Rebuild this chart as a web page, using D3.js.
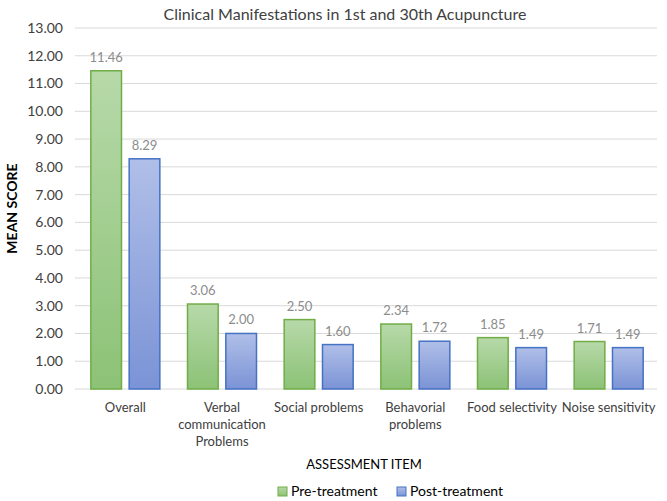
<!DOCTYPE html>
<html><head><meta charset="utf-8">
<script src="https://cdn.jsdelivr.net/npm/d3@7"></script>
<style>body{margin:0;background:#fff}svg{display:block}text{font-family:Lato,"Open Sans",sans-serif}</style>
</head><body><svg id="c" width="667" height="501"></svg>
<script>
const categories = [["Overall"],["Verbal","communication","Problems"],["Social problems"],["Behavorial","problems"],["Food selectivity"],["Noise sensitivity"]];
const preTreatment = [11.46, 3.06, 2.50, 2.34, 1.85, 1.71];
const postTreatment = [8.29, 2.00, 1.60, 1.72, 1.49, 1.49];
const seriesNames = ["Pre-treatment","Post-treatment"];
const yTicks = d3.range(0, 14, 1);

const svg = d3.select("#c");
const m = {l:77, r:10, t:28, b:112};
const W = 667, H = 501;
const GW = 69;
const x = d3.scaleBand().domain(d3.range(categories.length)).range([m.l, W - m.r]);
const y = d3.scaleLinear().domain([0, 13]).range([H - m.b, m.t]);
const xs = d3.scaleBand().domain([0,1]).range([0, GW]).paddingInner(0.2);

const defs = svg.append("defs");
function grad(id, top, bot){
  const g = defs.append("linearGradient").attr("id", id).attr("x1",0).attr("y1",0).attr("x2",0).attr("y2",1);
  g.append("stop").attr("offset","0%").attr("stop-color", top);
  g.append("stop").attr("offset","100%").attr("stop-color", bot);
}
grad("gG", "#b7d9a9", "#8cc276");
grad("gB", "#b0bfe8", "#7b93d6");
const fills = ["url(#gG)", "url(#gB)"];
const strokes = ["#70ad47", "#4472c4"];

svg.append("g").selectAll("line").data(yTicks).join("line")
  .attr("x1", m.l - 2).attr("x2", W - m.r)
  .attr("y1", d => y(d)).attr("y2", d => y(d))
  .attr("stroke", "#d9d9d9").attr("stroke-width", 1);

svg.append("g").selectAll("text").data(yTicks).join("text")
  .attr("x", 63).attr("y", d => y(d)).attr("dy", "0.35em")
  .attr("text-anchor", "end").attr("font-size", 14).attr("fill", "#404040")
  .text(d => d.toFixed(2));

const series = [preTreatment, postTreatment];
series.forEach((vals, si) => {
  const g = svg.append("g");
  g.selectAll("rect").data(vals).join("rect")
    .attr("x", (d,i) => x(i) + (x.bandwidth() - GW)/2 + xs(si))
    .attr("y", d => y(d)).attr("width", xs.bandwidth())
    .attr("height", d => y(0) - y(d))
    .attr("fill", fills[si]).attr("stroke", strokes[si]).attr("stroke-width", 1.5);
  g.selectAll("text").data(vals).join("text")
    .attr("x", (d,i) => x(i) + (x.bandwidth() - GW)/2 + xs(si) + xs.bandwidth()/2)
    .attr("y", d => y(d) - 9)
    .attr("text-anchor", "middle").attr("font-size", 13).attr("fill", "#8c8c8c")
    .text(d => d.toFixed(2));
});

const cl = svg.append("g");
categories.forEach((lines, i) => {
  const t = cl.append("text").attr("x", x(i) + x.bandwidth()/2).attr("y", 412)
    .attr("text-anchor", "middle").attr("font-size", 13).attr("fill", "#404040");
  lines.forEach((ln, k) => t.append("tspan").attr("x", x(i) + x.bandwidth()/2).attr("dy", k ? 17 : 0).text(ln));
});

svg.append("text").attr("x", 345).attr("y", 20).attr("text-anchor", "middle")
  .attr("font-size", 16).attr("fill", "#404040").text("Clinical Manifestations in 1st and 30th Acupuncture");

svg.append("text").attr("transform", "translate(17," + ((y(0)+y(13))/2) + ") rotate(-90)")
  .attr("text-anchor", "middle").attr("font-size", 14).attr("font-weight", "bold").attr("fill", "#000")
  .text("MEAN SCORE");
svg.append("text").attr("x", 364).attr("y", 469).attr("text-anchor", "middle")
  .attr("font-size", 13).attr("fill", "#000").text("ASSESSMENT ITEM");

const lg = svg.append("g");
const lx = [278, 397];
seriesNames.forEach((n, i) => {
  lg.append("rect").attr("x", lx[i]).attr("y", 487).attr("width", 9).attr("height", 9)
    .attr("fill", fills[i]).attr("stroke", strokes[i]).attr("stroke-width", 1);
  lg.append("text").attr("x", lx[i] + 13).attr("y", 496).attr("font-size", 14).attr("fill", "#000").text(n);
});
</script></body></html>
